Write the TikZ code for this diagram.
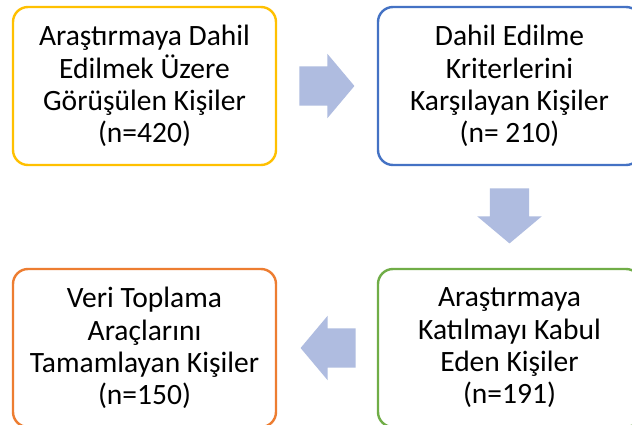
\documentclass[tikz,border=0pt]{standalone}
\usepackage{fontspec}
\setmainfont{Carlito}
\usetikzlibrary{shapes.arrows,calc}
\definecolor{cyellow}{HTML}{FFC000}
\definecolor{cblue}{HTML}{4472C4}
\definecolor{cgreen}{HTML}{70AD47}
\definecolor{corange}{HTML}{ED7D31}
\definecolor{arrowblue}{HTML}{AFBCE0}
\begin{document}
\begin{tikzpicture}[x=1pt,y=-1pt,
  box/.style={draw, line width=2.4pt, rounded corners=15pt, minimum width=263pt, minimum height=158pt,
    align=center, font=\fontsize{29.5}{32.3}\selectfont, inner sep=0pt, fill=white},
  barrow/.style={single arrow, fill=arrowblue, draw=none, minimum height=55pt,
    single arrow head extend=12.5pt, single arrow tip angle=100, anchor=tail},
  harrow/.style={barrow, inner xsep=0pt, inner ysep=19.5pt},
  varrow/.style={barrow, inner xsep=19.5pt, inner ysep=0pt}]
\clip (0,0) rectangle (632,425);
\fill[white] (0,0) rectangle (632,425);
\node[box, draw=cyellow] (a) at (144.5,86) {Araştırmaya Dahil\\Edilmek Üzere\\Görüşülen Kişiler\\(n=420)};
\node[box, draw=cblue] (b) at (509.5,86) {Dahil Edilme\\Kriterlerini\\Karşılayan Kişiler\\(n= 210)};
\node[box, draw=cgreen] (c) at (509.5,348) {Araştırmaya\\Katılmayı Kabul\\Eden Kişiler\\(n=191)};
\node[box, draw=corange] (d) at (144.5,348) {Veri Toplama\\Araçlarını\\Tamamlayan Kişiler\\(n=150)};
\node[harrow, shape border rotate=0] (ab) at ($(a.east)+(22,0)$) {};
\node[varrow, shape border rotate=270] (bc) at ($(b.south)+(0,22)$) {};
\node[harrow, shape border rotate=180] (cd) at ($(c.west)+(-21,0)$) {};
\end{tikzpicture}
\end{document}
